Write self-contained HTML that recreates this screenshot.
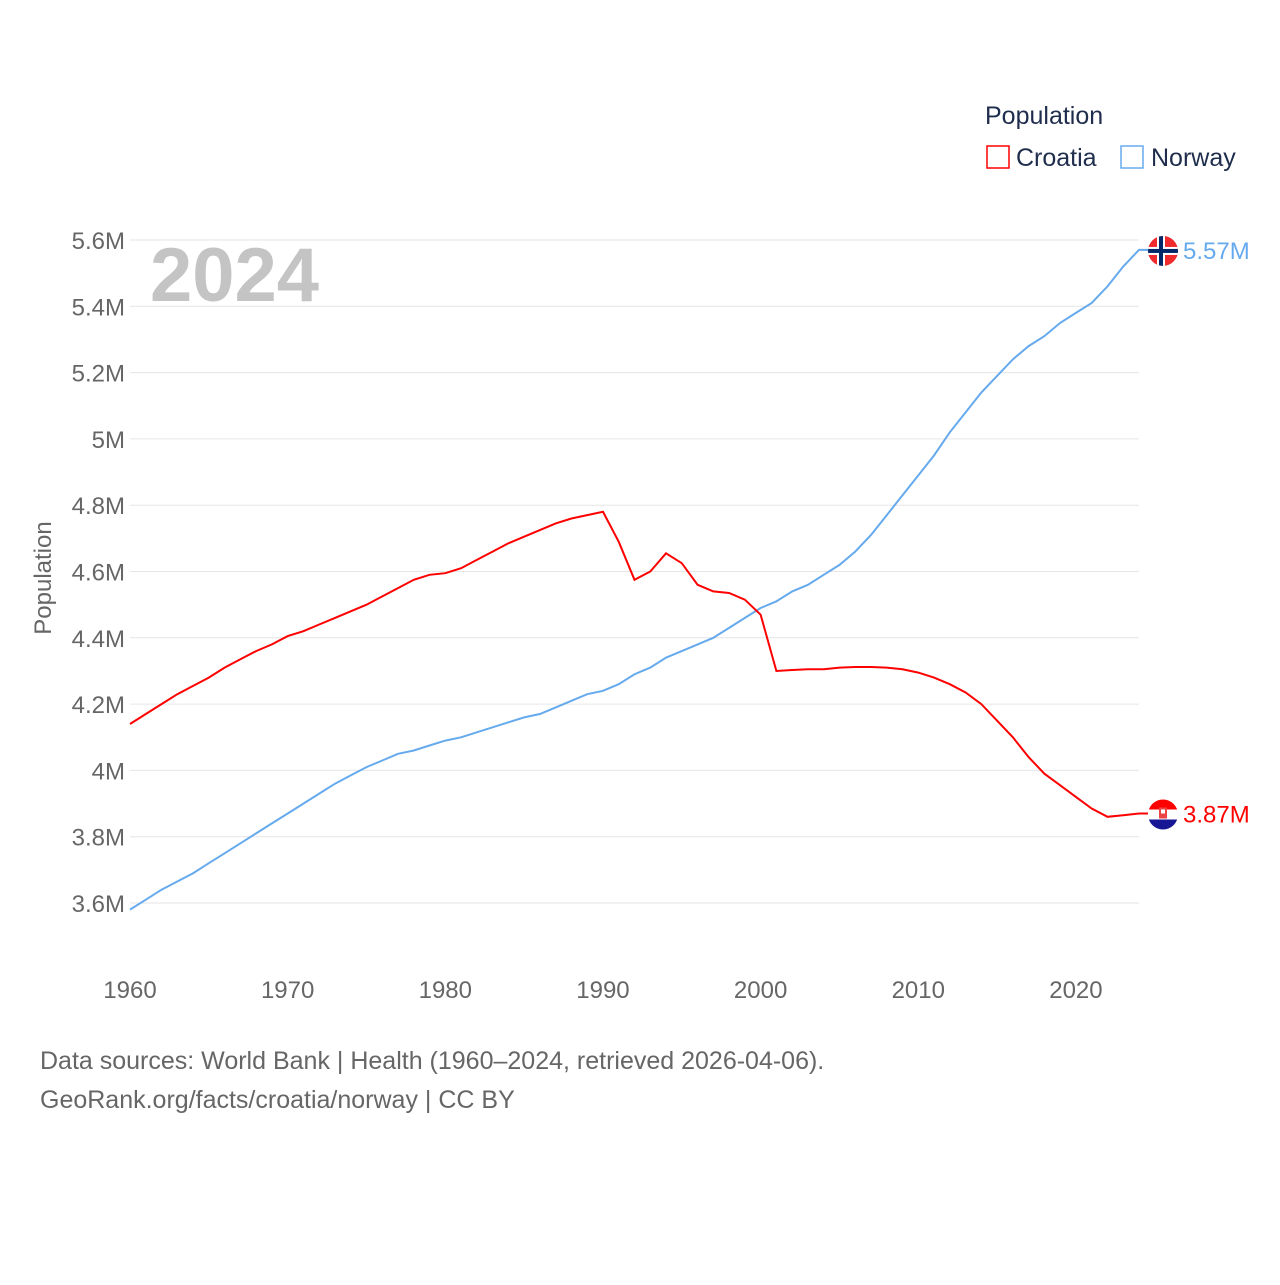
<!DOCTYPE html>
<html><head><meta charset="utf-8"><style>
body{margin:0;background:#fff;font-family:"Liberation Sans",sans-serif}
svg text{font-family:"Liberation Sans",sans-serif}
</style></head><body>
<svg width="1280" height="1280" viewBox="0 0 1280 1280">
<g id="grid"></g>
<g id="yticks"></g>
<g id="xticks"></g>
<text x="150" y="301" font-size="76" font-weight="bold" fill="#c4c4c4">2024</text>
<text transform="translate(51,578) rotate(-90)" text-anchor="middle" font-size="24" fill="#666">Population</text>
<g>
<text x="985" y="124" font-size="25" fill="#1f2d4d">Population</text>
<g><rect x="987" y="146" width="22" height="22" fill="none" stroke="#ff0000" stroke-width="1.5"/><text x="1016" y="166" font-size="25" fill="#1f2d4d">Croatia</text></g>
<g><rect x="1121" y="146" width="22" height="22" fill="none" stroke="#66aaee" stroke-width="1.5"/><text x="1151" y="166" font-size="25" fill="#1f2d4d">Norway</text></g>
</g>
<path id="norway-line" fill="none" stroke="#66aaee" stroke-width="2"/>
<path id="croatia-line" fill="none" stroke="#ff0000" stroke-width="2"/>
<g id="ends"></g>
<text x="40" y="1069" font-size="25" fill="#666">Data sources: World Bank | Health (1960–2024, retrieved 2026-04-06).</text>
<text x="40" y="1108" font-size="25" fill="#666">GeoRank.org/facts/croatia/norway | CC BY</text>
</svg>
<script>
const years=[];for(let y=1960;y<=2024;y++)years.push(y);
const norway=[3.58,3.61,3.64,3.665,3.69,3.72,3.75,3.78,3.81,3.84,3.87,3.90,3.93,3.96,3.985,4.01,4.03,4.05,4.06,4.075,4.09,4.10,4.115,4.13,4.145,4.16,4.17,4.19,4.21,4.23,4.24,4.26,4.29,4.31,4.34,4.36,4.38,4.40,4.43,4.46,4.49,4.51,4.54,4.56,4.59,4.62,4.66,4.71,4.77,4.83,4.89,4.95,5.02,5.08,5.14,5.19,5.24,5.28,5.31,5.35,5.38,5.41,5.46,5.52,5.57];
const croatia=[4.14,4.17,4.20,4.23,4.255,4.28,4.31,4.335,4.36,4.38,4.405,4.42,4.44,4.46,4.48,4.50,4.525,4.55,4.575,4.59,4.595,4.61,4.635,4.66,4.685,4.705,4.725,4.745,4.76,4.77,4.78,4.69,4.575,4.60,4.655,4.625,4.56,4.54,4.535,4.515,4.47,4.30,4.303,4.305,4.305,4.31,4.312,4.312,4.31,4.305,4.295,4.28,4.26,4.235,4.20,4.15,4.10,4.04,3.99,3.955,3.92,3.885,3.86,3.865,3.87];
const yTicks=[3.6,3.8,4.0,4.2,4.4,4.6,4.8,5.0,5.2,5.4,5.6];
const yTickLabels=["3.6M","3.8M","4M","4.2M","4.4M","4.6M","4.8M","5M","5.2M","5.4M","5.6M"];
const xTicks=[1960,1970,1980,1990,2000,2010,2020];
const NS="http://www.w3.org/2000/svg";
const X=y=>130+(y-1960)*(1139-130)/64;
const Y=v=>903-(v-3.6)*(903-240)/2.0;
function el(t,a,p){const e=document.createElementNS(NS,t);for(const k in a)e.setAttribute(k,a[k]);document.getElementById(p).appendChild(e);return e;}
yTicks.forEach((v,i)=>{
 const l=el('line',{x1:130,x2:1139,y1:Y(v),y2:Y(v),stroke:'#e6e6e6','stroke-width':1},'grid');
 
 
 const t=el('text',{x:125,y:Y(v)+9,'text-anchor':'end','font-size':24,fill:'#666'},'yticks');
 t.textContent=yTickLabels[i];
 
 
});
xTicks.forEach(v=>{
 const t=el('text',{x:X(v),y:998,'text-anchor':'middle','font-size':24,fill:'#666'},'xticks');
 t.textContent=v;
 
 
});
const path=a=>a.map((v,i)=>(i?'L':'M')+X(years[i]).toFixed(1)+' '+Y(v).toFixed(1)).join(' ')+' H 1148';
document.getElementById('norway-line').setAttribute('d',path(norway));
document.getElementById('croatia-line').setAttribute('d',path(croatia));
function endMark(vals,color,label,kind){
 const v=vals[vals.length-1],cx=1163,cy=Y(v)+1;
 const g=el('g',{},'ends');
 
 
 const cp=el('clipPath',{id:'c'+kind},'ends');
 const cc=document.createElementNS(NS,'circle');cc.setAttribute('cx',cx);cc.setAttribute('cy',cy);cc.setAttribute('r',15);cp.appendChild(cc);
 const f=document.createElementNS(NS,'g');f.setAttribute('clip-path','url(#c'+kind+')');g.appendChild(f);
 const add=(t,a)=>{const e=document.createElementNS(NS,t);for(const k in a)e.setAttribute(k,a[k]);f.appendChild(e);};
 if(kind==='norway'){
  add('rect',{x:cx-15,y:cy-15,width:30,height:30,fill:'#ef2b2d'});
  add('rect',{x:cx-15,y:cy-4,width:30,height:8,fill:'#fff'});
  add('rect',{x:cx-6,y:cy-15,width:8,height:30,fill:'#fff'});
  add('rect',{x:cx-15,y:cy-2,width:30,height:4,fill:'#002868'});
  add('rect',{x:cx-4,y:cy-15,width:4,height:30,fill:'#002868'});
 }else{
  add('rect',{x:cx-15,y:cy-15,width:30,height:10,fill:'#ff0000'});
  add('rect',{x:cx-15,y:cy-5,width:30,height:10,fill:'#ffffff'});
  add('rect',{x:cx-15,y:cy+5,width:30,height:10,fill:'#171796'});
  add('rect',{x:cx-4,y:cy-7,width:8,height:11,fill:'#ee4444'});
  add('rect',{x:cx-2,y:cy-5,width:4,height:4,fill:'#ffffff'});
 }
 const t=document.createElementNS(NS,'text');
 t.setAttribute('x',1183);t.setAttribute('y',cy+8);t.setAttribute('font-size',24);t.setAttribute('fill',color);
 t.textContent=label;g.appendChild(t);
}
endMark(norway,'#66aaee','5.57M','norway');
endMark(croatia,'#ff0000','3.87M','croatia');
</script>
</body></html>
